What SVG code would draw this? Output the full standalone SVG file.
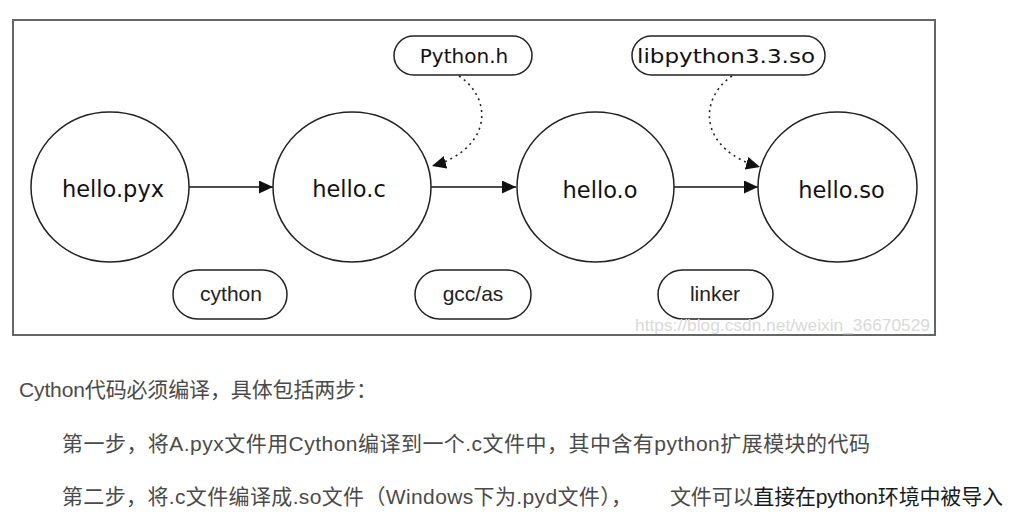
<svg xmlns="http://www.w3.org/2000/svg" width="1014" height="524" viewBox="0 0 1014 524">
<defs>
<style>
.frame{fill:#fff;stroke:#666;stroke-width:2}
.node{fill:#fff;stroke:#222;stroke-width:1.5}
.pill{fill:#fff;stroke:#222;stroke-width:1.5}
.nt{font-family:"DejaVu Sans",sans-serif;font-size:22.5px;fill:#111;text-anchor:middle}
.pt{font-family:"DejaVu Sans",sans-serif;font-size:20px;fill:#111;text-anchor:middle}
.lt{font-family:"Liberation Sans",Arial,sans-serif;font-size:21px;fill:#222;text-anchor:middle}
.edge{fill:none;stroke:#111;stroke-width:1.5}
.dot{fill:none;stroke:#222;stroke-width:1.6;stroke-dasharray:2,4}
.body{font-family:"Liberation Sans","Noto Sans CJK SC",sans-serif;font-size:21px;fill:#4a4a4a}
.wm{font-family:"Liberation Sans",Arial,sans-serif;font-size:17px;fill:#d9d9d9}
</style>
<marker id="ah" markerUnits="userSpaceOnUse" markerWidth="15" markerHeight="14" refX="14" refY="6.5" orient="auto">
<path d="M0,0 L14,6.5 L0,13 z" fill="#111"/>
</marker>
</defs>
<rect width="1014" height="524" fill="#fff"/>
<rect class="frame" x="13" y="20" width="922" height="315"/>
<g id="connectors">
<line class="edge" x1="189" y1="187" x2="273" y2="187" marker-end="url(#ah)"/>
<line class="edge" x1="431" y1="187" x2="516" y2="187" marker-end="url(#ah)"/>
<line class="edge" x1="674" y1="187" x2="758" y2="187" marker-end="url(#ah)"/>
<path class="dot" d="M459,76 C495,100 490,150 432,166" marker-end="url(#ah)"/>
<path class="dot" d="M732,76 C697,100 700,150 760,167" marker-end="url(#ah)"/>
</g>
<g id="hello_pyx">
<ellipse class="node" cx="110" cy="187" rx="79" ry="75"/>
<text class="nt" x="113" y="197">hello.pyx</text>
</g>
<g id="hello_c">
<ellipse class="node" cx="352" cy="187" rx="79" ry="75"/>
<text class="nt" x="349" y="197">hello.c</text>
</g>
<g id="hello_o">
<ellipse class="node" cx="595.5" cy="187" rx="78.5" ry="75"/>
<text class="nt" x="600" y="198">hello.o</text>
</g>
<g id="hello_so">
<ellipse class="node" cx="837.5" cy="187" rx="79.5" ry="75"/>
<text class="nt" x="841.5" y="198">hello.so</text>
</g>
<g id="python_h">
<rect class="pill" x="394" y="36" width="138" height="39" rx="19.5"/>
<text class="pt" x="464" y="63">Python.h</text>
</g>
<g id="libpython">
<rect class="pill" x="632" y="36" width="193" height="39" rx="19.5"/>
<text class="pt" x="726" y="63" textLength="178" lengthAdjust="spacingAndGlyphs">libpython3.3.so</text>
</g>
<g id="cython">
<rect class="pill" x="173" y="270" width="114" height="49" rx="24.5"/>
<text class="lt" x="231" y="301">cython</text>
</g>
<g id="gcc_as">
<rect class="pill" x="415" y="270" width="116" height="49" rx="24.5"/>
<text class="lt" x="473" y="301">gcc/as</text>
</g>
<g id="linker">
<rect class="pill" x="658" y="270" width="115" height="49" rx="24.5"/>
<text class="lt" x="715" y="301">linker</text>
</g>
<text class="wm" x="635" y="331" textLength="295" lengthAdjust="spacingAndGlyphs">https://blog.csdn.net/weixin_36670529</text>
<text class="body" x="19" y="397" textLength="358" lengthAdjust="spacing">Cython代码必须编译，具体包括两步：</text>
<text class="body" x="62" y="451" textLength="808" lengthAdjust="spacing">第一步，将A.pyx文件用Cython编译到一个.c文件中，其中含有python扩展模块的代码</text>
<text class="body" x="62" y="504" textLength="570" lengthAdjust="spacing">第二步，将.c文件编译成.so文件（Windows下为.pyd文件），</text>
<text class="body" x="670" y="504" textLength="333" lengthAdjust="spacing">文件可以<tspan fill="#1a1a1a">直接在python环境中被导入</tspan></text>
</svg>
